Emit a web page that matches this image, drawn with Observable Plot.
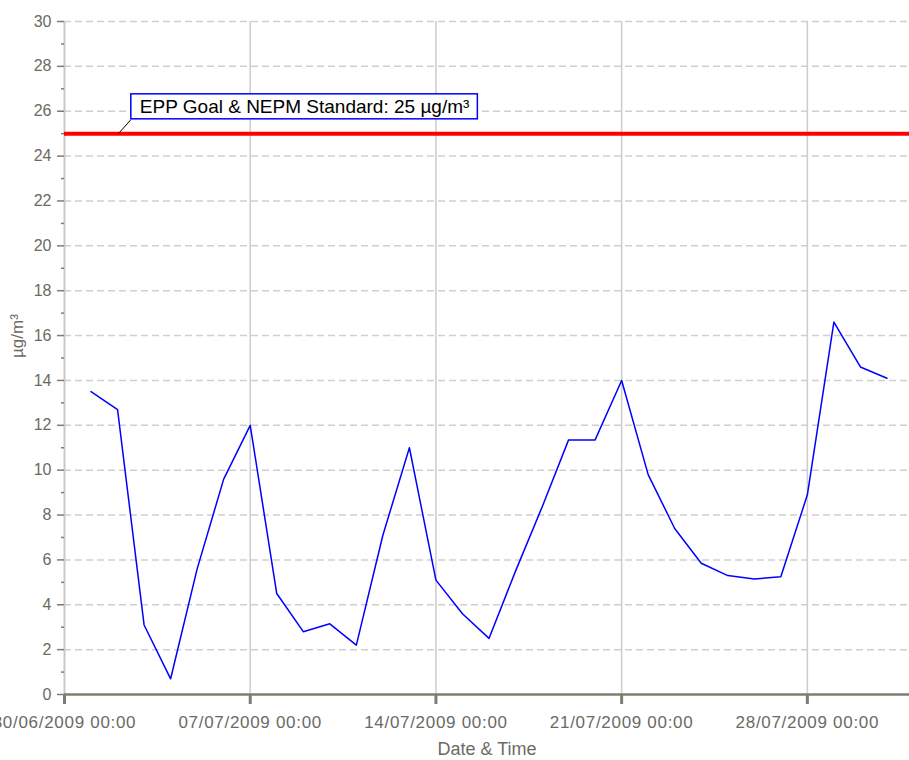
<!DOCTYPE html>
<html>
<head>
<meta charset="utf-8">
<script src="https://cdn.jsdelivr.net/npm/d3@7"></script>
<script src="https://cdn.jsdelivr.net/npm/@observablehq/plot@0.6"></script>
<style>
  html, body { margin: 0; padding: 0; background: #fff; overflow: hidden; }
  g[aria-label="x-axis tick label"] text { letter-spacing: 0.7px; }
</style>
</head>
<body>
<script>
// Daily PM2.5 averages, July 2009 (µg/m³)
const days = ["2009-07-01","2009-07-02","2009-07-03","2009-07-04","2009-07-05","2009-07-06","2009-07-07","2009-07-08","2009-07-09","2009-07-10","2009-07-11","2009-07-12","2009-07-13","2009-07-14","2009-07-15","2009-07-16","2009-07-17","2009-07-18","2009-07-19","2009-07-20","2009-07-21","2009-07-22","2009-07-23","2009-07-24","2009-07-25","2009-07-26","2009-07-27","2009-07-28","2009-07-29","2009-07-30","2009-07-31"];
const values = [13.5, 12.7, 3.1, 0.7, 5.6, 9.6, 12.0, 4.5, 2.8, 3.15, 2.2, 7.1, 11.0, 5.1, 3.6, 2.5, 5.5, 8.35, 11.35, 11.35, 14.0, 9.8, 7.4, 5.85, 5.3, 5.15, 5.25, 8.9, 16.6, 14.6, 14.1];

const xDomain = ["2009-06-30T00:00", "2009-07-31T20:24"];
const weekTicks = ["2009-06-30","2009-07-07","2009-07-14","2009-07-21","2009-07-28"];
const yMajor = [0,2,4,6,8,10,12,14,16,18,20,22,24,26,28,30];
const yMinor = [1,3,5,7,9,11,13,15,17,19,21,23,25,27,29];
const gridY = [2,4,6,8,10,12,14,16,18,20,22,24,26,28,30];

const standardValue = 25;
const annotationLabel = "EPP Goal & NEPM Standard: 25 µg/m³";
const annotationAnchor = {x1: "2009-07-02T00:45", y1: 25, x2: "2009-07-02T12:00", y2: 25.62};
const annotationText = {x: "2009-07-02T12:00", y: 26.2};

const U = s => new Date(s + (s.length === 10 ? "T00:00Z" : "Z"));

const data = days.map((d, i) => ({date: U(d), value: values[i]}));
const fmt = d3.utcFormat("%d/%m/%Y %H:%M");
const axisColor = "#7f7c70";
const textColor = "#6b6b63";
const FONT = "'Liberation Sans', Arial, sans-serif";

const chart = Plot.plot({
  width: 909,
  height: 760,
  marginLeft: 64,
  marginRight: 0,
  marginTop: 21,
  marginBottom: 66,
  style: {fontFamily: FONT, background: "#fff"},
  x: {type: "utc", domain: xDomain.map(U)},
  y: {domain: [0, 30]},
  marks: [
    // grid
    Plot.ruleY(gridY, {stroke: "#cfcfcf", strokeWidth: 1.5, strokeDasharray: "7,4"}),
    Plot.ruleX(weekTicks.map(U), {stroke: "#cfcfcf", strokeWidth: 1.6}),
    // y axis line (light)
    Plot.ruleX([U(xDomain[0])], {stroke: "#c8c8c8", strokeWidth: 1.6}),
    // standard line
    Plot.ruleY([standardValue], {stroke: "#ff0000", strokeWidth: 4}),
    // data line
    Plot.line(data, {x: "date", y: "value", stroke: "#0000ff", strokeWidth: 1.5}),
    // x axis line
    Plot.ruleY([0], {stroke: axisColor, strokeWidth: 2.5}),
    // axes
    Plot.axisX({ticks: weekTicks.map(U), tickFormat: fmt, tickSize: 10, tickPadding: 11,
      stroke: axisColor, strokeWidth: 3, fill: textColor, fontSize: 17, label: null}),
    Plot.axisY({ticks: yMajor, tickSize: 7, tickPadding: 6, stroke: axisColor, strokeWidth: 1.5,
      fill: textColor, fontSize: 16, label: null}),
    Plot.axisY({ticks: yMinor, tickSize: 3, stroke: axisColor, strokeWidth: 1.5, text: null, label: null}),
    // axis titles
    Plot.text(["Date & Time"], {frameAnchor: "bottom", dy: 55, lineAnchor: "middle",
      fontSize: 18, fill: textColor}),
    Plot.text(["µg/m³"], {frameAnchor: "left", dx: -47, rotate: -90, lineAnchor: "middle",
      fontSize: 17, fill: textColor}),
    // annotation
    Plot.link([annotationAnchor], {x1: d => U(d.x1), y1: "y1", x2: d => U(d.x2), y2: "y2",
      stroke: "#000", strokeWidth: 1}),
    Plot.text([annotationText], {x: d => U(d.x), y: "y", text: () => annotationLabel,
      textAnchor: "start", dx: 9, lineAnchor: "middle", fontSize: 19, fill: "#000"})
  ]
});

document.body.append(chart);

// draw the annotation's frame around its text
chart.querySelectorAll("text").forEach(t => {
  if (t.textContent !== annotationLabel) return;
  const b = t.getBBox();
  const r = document.createElementNS("http://www.w3.org/2000/svg", "rect");
  r.setAttribute("x", b.x - 9);
  r.setAttribute("y", b.y - 2);
  r.setAttribute("width", b.width + 17);
  r.setAttribute("height", b.height + 4);
  r.setAttribute("fill", "#fff");
  r.setAttribute("stroke", "#0000ff");
  r.setAttribute("stroke-width", 1.5);
  if (t.getAttribute("transform")) r.setAttribute("transform", t.getAttribute("transform"));
  t.parentNode.insertBefore(r, t);
});
</script>
</body>
</html>
